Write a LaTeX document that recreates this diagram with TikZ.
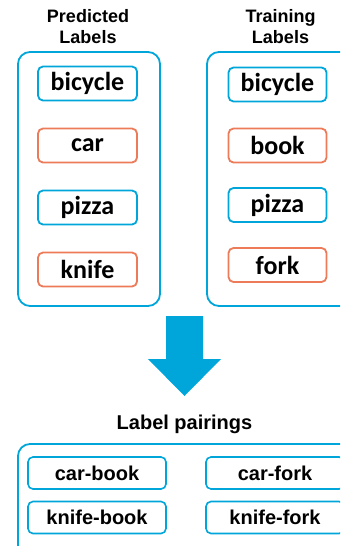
\documentclass[tikz,border=0pt]{standalone}
\usepackage{fontspec}
\setmainfont{Liberation Sans}
\newfontfamily\itemfont{Carlito}
\usetikzlibrary{calc}
\definecolor{boxBlue}{RGB}{0, 166, 218}
\definecolor{boxOrange}{RGB}{237, 122, 88}

\begin{document}
\begin{tikzpicture}[x=1pt, y=-1pt,
    group/.style={draw=boxBlue, line width=1.8pt, rounded corners=12pt},
    item/.style={draw=#1, line width=1.8pt, rounded corners=5pt, minimum width=98pt, minimum height=34pt,
        inner sep=0pt, font=\itemfont\bfseries\fontsize{26}{30}\selectfont},
    pair/.style={draw=boxBlue, line width=1.6pt, rounded corners=5pt, minimum width=138pt, minimum height=32pt,
        inner sep=0pt, font=\bfseries\fontsize{20}{22}\selectfont},
    heading/.style={align=center, font=\bfseries\fontsize{18}{21}\selectfont}]
    \useasboundingbox (0,0) rectangle (340,546);
    \clip (0,0) rectangle (340,546);
    % headings
    \node[heading] (predT) at (88,26.5) {Predicted\\Labels};
    \node[heading] (trainT) at (280.5,26.5) {Training\\Labels};
    \node[heading, font=\bfseries\fontsize{20}{22}\selectfont] (pairT) at (184.5,424) {Label pairings};
    % outer groups
    \draw[group] (18,52) rectangle (160,306);
    \draw[group] (207,52) rectangle (352,306);
    \draw[group] (18,444) rectangle (356,560);
    % predicted labels
    \node[item=boxBlue, minimum width=99pt] (pBicycle) at (87.5,83.5) {bicycle};
    \node[item=boxOrange, minimum width=99pt] (pCar) at (87.5,145.5) {car};
    \node[item=boxBlue, minimum width=99pt] (pPizza) at (87.5,207.5) {pizza};
    \node[item=boxOrange, minimum width=99pt] (pKnife) at (87.5,269.5) {knife};
    % training labels
    \node[item=boxBlue] (tBicycle) at (277.5,84.5) {bicycle};
    \node[item=boxOrange] (tBook) at (277.5,145.5) {book};
    \node[item=boxBlue] (tPizza) at (277.5,205) {pizza};
    \node[item=boxOrange] (tFork) at (277.5,265) {fork};
    % down arrow
    \fill[boxBlue] (166,316) -- (203,316) -- (203,359) -- (221,359) -- (184.5,396)
        -- (148,359) -- (166,359) -- cycle;
    % pairings
    \node[pair] (carBook) at (97,473) {car-book};
    \node[pair] (knifeBook) at (97,517.5) {knife-book};
    \node[pair] (carFork) at (275,473) {car-fork};
    \node[pair] (knifeFork) at (275,517.5) {knife-fork};
\end{tikzpicture}
\end{document}
